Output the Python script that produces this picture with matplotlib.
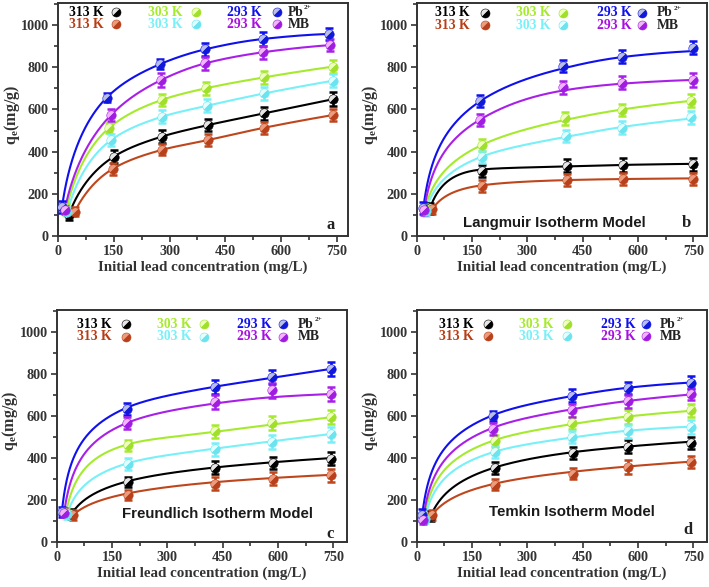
import numpy as np
import matplotlib
matplotlib.use("Agg")
import matplotlib.pyplot as plt
from matplotlib.markers import MarkerStyle
from matplotlib.transforms import Affine2D
from matplotlib.ticker import MultipleLocator

plt.rcParams['font.family'] = ['Liberation Serif', 'DejaVu Serif']
plt.rcParams['font.weight'] = 'bold'
plt.rcParams['mathtext.fontset'] = 'custom'
plt.rcParams['mathtext.rm'] = 'Liberation Serif:bold'
plt.rcParams['mathtext.bf'] = 'Liberation Serif:bold'
plt.rcParams['mathtext.it'] = 'Liberation Serif:bold'

# ---------------- series definitions ----------------
series_temp = ['313 K', '313 K', '303 K', '303 K', '293 K', '293 K']
series_colors = ['#000000', '#BE461C', '#A6EA2E', '#78F0F8', '#1010EE', '#A820E8']
text_colors = ['#000000', '#B83C14', '#A6EA2E', '#78F0F8', '#1010EE', '#A810E0']
marker_light = ['#E6E6E6', '#EC9C7C', '#EEFFC0', '#E4FFFF', '#B8BEE8', '#F2B4FA']
marker_dark = ['#000000', '#B8401A', '#A0E02A', '#6CE4F0', '#1018DC', '#A01CE0']
ion_labels = ['Pb', 'MB']
ion_super = ['2+', '']

# ---------------- panel a (experimental) ----------------
a_x = [[29, 150, 279, 404, 554, 741],
       [45, 147, 279, 404, 554, 741],
       [22, 138, 279, 397, 554, 739],
       [25, 143, 281, 402, 555, 739],
       [11, 131, 275, 396, 551, 728],
       [18, 143, 277, 395, 551, 732]]
a_y = [[100, 376, 471, 526, 581, 649],
       [115, 318, 408, 455, 513, 574],
       [125, 513, 645, 700, 752, 803],
       [115, 455, 566, 618, 676, 736],
       [139, 656, 815, 885, 934, 958],
       [123, 574, 739, 818, 871, 905]]
a_err = [[22, 30, 32, 30, 32, 34],
         [22, 28, 26, 28, 28, 30],
         [25, 25, 30, 30, 30, 32],
         [22, 28, 30, 30, 30, 30],
         [28, 20, 24, 30, 32, 30],
         [20, 28, 34, 30, 30, 30]]
a_fit = a_y

# ---------------- panel b (Langmuir) ----------------
b_x = [[36, 176, 408, 560, 748],
       [42, 176, 408, 560, 748],
       [22, 176, 402, 558, 745],
       [24, 176, 405, 558, 745],
       [18, 173, 398, 556, 750],
       [20, 173, 398, 556, 750]]
b_y = [[131, 310, 333, 336, 340],
       [126, 237, 265, 270, 270],
       [127, 431, 558, 597, 641],
       [118, 376, 474, 513, 562],
       [131, 640, 806, 850, 893],
       [122, 550, 705, 727, 739]]
b_err = [[25, 28, 30, 32, 30],
         [22, 28, 30, 30, 28],
         [25, 28, 30, 30, 30],
         [22, 28, 30, 30, 30],
         [28, 28, 28, 30, 30],
         [22, 28, 30, 32, 32]]
b_fit = [[131, 315, 330, 337, 342],
         [126, 240, 265, 270, 273],
         [127, 431, 550, 600, 641],
         [118, 376, 470, 517, 557],
         [131, 640, 795, 848, 877],
         [122, 553, 690, 722, 740]]

# ---------------- panel c (Freundlich) ----------------
c_x = [[40, 194, 429, 587, 744],
       [45, 194, 429, 587, 744],
       [25, 192, 429, 585, 745],
       [28, 192, 429, 585, 745],
       [14, 190, 429, 583, 744],
       [20, 190, 429, 585, 745]]
c_y = [[133, 286, 354, 376, 397],
       [129, 225, 278, 302, 317],
       [140, 460, 527, 567, 595],
       [132, 370, 441, 476, 513],
       [144, 635, 738, 786, 825],
       [140, 567, 667, 722, 706]]
c_err = [[25, 25, 30, 30, 32],
         [22, 25, 30, 32, 32],
         [22, 28, 32, 32, 32],
         [22, 28, 32, 35, 35],
         [25, 28, 35, 32, 32],
         [22, 28, 32, 35, 32]]
c_fit = [[133, 290, 355, 380, 400],
         [129, 232, 285, 305, 320],
         [140, 465, 525, 560, 595],
         [132, 375, 445, 480, 515],
         [144, 640, 740, 782, 825],
         [140, 567, 660, 690, 705]]

# ---------------- panel d (Temkin) ----------------
d_x = [[38, 212, 424, 574, 745],
       [42, 212, 425, 574, 745],
       [20, 211, 422, 572, 744],
       [22, 211, 422, 572, 744],
       [15, 208, 420, 572, 744],
       [17, 208, 420, 572, 744]]
d_y = [[124, 354, 424, 455, 471],
       [129, 273, 325, 357, 381],
       [118, 481, 567, 595, 627],
       [110, 428, 500, 527, 548],
       [128, 600, 698, 733, 759],
       [105, 540, 627, 670, 706]]
d_err = [[25, 28, 28, 30, 30],
         [22, 26, 26, 32, 30],
         [22, 28, 30, 32, 32],
         [20, 28, 30, 32, 32],
         [28, 25, 30, 30, 30],
         [20, 28, 30, 30, 30]]
d_fit = [[124, 355, 428, 455, 478],
         [129, 278, 335, 360, 383],
         [118, 485, 562, 598, 625],
         [110, 430, 498, 530, 550],
         [128, 605, 695, 735, 760],
         [105, 545, 632, 672, 703]]

panel_letters = ['a', 'b', 'c', 'd']
panel_titles = ['', 'Langmuir Isotherm Model', 'Freundlich Isotherm Model', 'Temkin Isotherm Model']
x_ticks = [0, 150, 300, 450, 600, 750]
y_ticks = [0, 200, 400, 600, 800, 1000]


def pchip(xk, yk, xs):
    xk = np.asarray(xk, float); yk = np.asarray(yk, float)
    h = np.diff(xk); d = np.diff(yk) / h
    n = len(xk); m = np.zeros(n)
    for k in range(1, n - 1):
        if d[k - 1] * d[k] > 0:
            w1 = 2 * h[k] + h[k - 1]; w2 = h[k] + 2 * h[k - 1]
            m[k] = (w1 + w2) / (w1 / d[k - 1] + w2 / d[k])
    def endslope(h0, h1, d0, d1):
        s = ((2 * h0 + h1) * d0 - h0 * d1) / (h0 + h1)
        if np.sign(s) != np.sign(d0):
            s = 0.0
        elif np.sign(d0) != np.sign(d1) and abs(s) > abs(3 * d0):
            s = 3 * d0
        return s
    m[0] = endslope(h[0], h[1], d[0], d[1])
    m[-1] = endslope(h[-1], h[-2], d[-1], d[-2])
    idx = np.clip(np.searchsorted(xk, xs) - 1, 0, n - 2)
    t = (xs - xk[idx]) / h[idx]
    h00 = 2 * t**3 - 3 * t**2 + 1; h10 = t**3 - 2 * t**2 + t
    h01 = -2 * t**3 + 3 * t**2; h11 = t**3 - t**2
    return h00 * yk[idx] + h10 * h[idx] * m[idx] + h01 * yk[idx + 1] + h11 * h[idx] * m[idx + 1]


def sphere_marker():
    return MarkerStyle('o', fillstyle='left', transform=Affine2D().rotate_deg(-45))


def draw_marker(ax, x, y, i, ms=6.8, **kw):
    ax.plot(x, y, ls='none', marker=sphere_marker(), ms=ms,
            mfc=marker_light[i], mfcalt=marker_dark[i], mec=marker_dark[i], mew=0.4, zorder=5, **kw)


panels = [
    dict(x=a_x, y=a_y, err=a_err, fit=a_fit, rect=[0.0818, 0.598, 0.409, 0.397], xmax=780,
         transform='sqrt', leg_x=[29, 156, 243, 371, 454, 588, 618], leg_y=[1060, 1005],
         title_xy=(0, 0), letter_xy=(732, 52)),
    dict(x=b_x, y=b_y, err=b_err, fit=b_fit, rect=[0.5877, 0.598, 0.4094, 0.397], xmax=787,
         transform='log', leg_x=[50, 185, 270, 397, 490, 612, 651], leg_y=[1058, 1000],
         title_xy=(373, 63), letter_xy=(730, 63)),
    dict(x=c_x, y=c_y, err=c_err, fit=c_fit, rect=[0.080, 0.0767, 0.4094, 0.395], xmax=787,
         transform='log', leg_x=[56, 188, 272, 399, 489, 613, 654], leg_y=[1037, 978],
         title_xy=(436, 132), letter_xy=(741, 38)),
    dict(x=d_x, y=d_y, err=d_err, fit=d_fit, rect=[0.5877, 0.0767, 0.4094, 0.395], xmax=787,
         transform='log', leg_x=[61, 194, 278, 408, 500, 623, 660], leg_y=[1037, 980],
         title_xy=(422, 141), letter_xy=(736, 57)),
]

fig = plt.figure(figsize=(7.09, 5.87), dpi=100)
FS_LEG = 9.8
FS_TICK = 10.2
FS_LAB = 10.8
AX_COL = '#333333'

for p_i, p in enumerate(panels):
    ax = fig.add_axes(p['rect'])
    ax.set_xlim(0, p['xmax'])
    ax.set_ylim(0, 1105)
    for s in range(6):
        xs = np.asarray(p['x'][s], float)
        fy = np.asarray(p['fit'][s], float)
        if p['transform'] == 'sqrt':
            u = np.sqrt(xs)
        else:
            u = np.log(xs)
        uu = np.linspace(u[0], u[-1], 300)
        xx = uu**2 if p['transform'] == 'sqrt' else np.exp(uu)
        ax.plot(xx, pchip(u, fy, uu), color=series_colors[s], lw=1.5, zorder=2)
    for s in range(6):
        ax.errorbar(p['x'][s], p['y'][s], yerr=p['err'][s], fmt='none',
                    ecolor=series_colors[s], elinewidth=1.8, capsize=3.2, capthick=1.8, zorder=3)
        draw_marker(ax, p['x'][s], p['y'][s], s)

    # in-plot legend
    lx = p['leg_x']; ly = p['leg_y']
    cols = [(0, 1), (2, 3), (4, 5)]
    for c_i, (s1, s2) in enumerate(cols):
        tx = lx[2 * c_i]; mx = lx[2 * c_i + 1]
        for r, s in enumerate((s1, s2)):
            ax.text(tx, ly[r], series_temp[s], color=text_colors[s], fontsize=FS_LEG,
                    fontweight='bold', va='center', ha='left')
            draw_marker(ax, [mx], [ly[r]], s, ms=6.5, clip_on=False)
    for r in range(2):
        ax.text(lx[6], ly[r], ion_labels[r], color='#222222', fontsize=FS_LEG,
                fontweight='bold', va='center', ha='left')
        if ion_super[r]:
            ax.annotate(ion_super[r], xy=(lx[6], ly[r]), xytext=(11.8, 3.2),
                        textcoords='offset points', fontsize=5.2, fontweight='bold',
                        color='#222222', va='center', ha='left')

    if panel_titles[p_i]:
        ax.text(p['title_xy'][0], p['title_xy'][1], panel_titles[p_i], family='Liberation Sans',
                fontweight='bold', fontsize=10.8, color='#1a1a1a', ha='center', va='center')
    ax.text(p['letter_xy'][0], p['letter_xy'][1], panel_letters[p_i], fontsize=12,
            fontweight='bold', ha='center', va='center', color='#222222')

    ax.set_xticks(x_ticks)
    ax.set_yticks(y_ticks)
    ax.xaxis.set_minor_locator(MultipleLocator(75))
    ax.yaxis.set_minor_locator(MultipleLocator(100))
    ax.tick_params(which='both', direction='out', width=1.2, labelsize=FS_TICK, colors=AX_COL,
                   top=False, right=False)
    ax.tick_params(which='major', length=4, pad=2.5)
    ax.tick_params(which='minor', length=3)
    for lab in ax.get_xticklabels() + ax.get_yticklabels():
        lab.set_fontweight('bold')
    for sp in ax.spines.values():
        sp.set_linewidth(1.4)
        sp.set_color(AX_COL)
    ax.set_xlabel('Initial lead concentration (mg/L)', fontsize=FS_LAB, fontweight='bold',
                  color=AX_COL, labelpad=2)
    ax.set_ylabel(r'q$_{\mathbf{e}}$(mg/g)', fontsize=11.5, fontweight='bold', color=AX_COL)
    ax.yaxis.set_label_coords(-0.125, 0.52)

fig.savefig('out.png', dpi=100)
